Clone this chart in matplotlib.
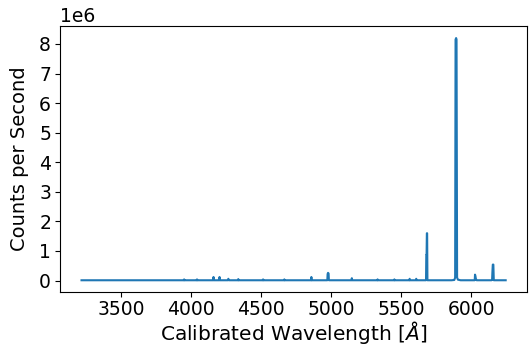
import numpy as np
import matplotlib
matplotlib.use('Agg')
import matplotlib.pyplot as plt
from matplotlib.ticker import MultipleLocator

# Spectrum (wavelength in Angstrom, counts per second).
wavelength = [3217, 3948, 3950, 3952, 4040, 4042, 4044,
              4157, 4160, 4163, 4200, 4203, 4206, 4262, 4266, 4270,
              4335, 4337, 4339, 4512, 4514, 4516, 4664, 4666, 4668,
              4857, 4859, 4861, 4973, 4975, 4978, 4982, 4984,
              5145, 5148, 5151, 5330, 5332, 5334, 5450, 5452, 5454,
              5559, 5561, 5563, 5605, 5608, 5611,
              5678, 5680, 5682, 5684, 5686, 5688,
              5860, 5880, 5886, 5889, 5893, 5896, 5900, 5906, 5925,
              6026, 6028, 6031, 6034, 6040,
              6145, 6150, 6152, 6155, 6159, 6162, 6200, 6247]
counts = [0.01e6, 0.01e6, 0.04e6, 0.01e6, 0.01e6, 0.04e6, 0.01e6,
          0.01e6, 0.12e6, 0.01e6, 0.01e6, 0.12e6, 0.01e6, 0.01e6, 0.06e6, 0.01e6,
          0.01e6, 0.05e6, 0.01e6, 0.01e6, 0.04e6, 0.01e6, 0.01e6, 0.04e6, 0.01e6,
          0.01e6, 0.12e6, 0.01e6, 0.01e6, 0.22e6, 0.26e6, 0.24e6, 0.01e6,
          0.01e6, 0.08e6, 0.01e6, 0.01e6, 0.04e6, 0.01e6, 0.01e6, 0.04e6, 0.01e6,
          0.01e6, 0.06e6, 0.01e6, 0.01e6, 0.06e6, 0.01e6,
          0.01e6, 0.87e6, 0.87e6, 1.6e6, 1.6e6, 0.01e6,
          0.01e6, 0.02e6, 0.1e6, 8.15e6, 8.2e6, 8.15e6, 0.1e6, 0.03e6, 0.01e6,
          0.01e6, 0.2e6, 0.15e6, 0.06e6, 0.01e6,
          0.01e6, 0.02e6, 0.26e6, 0.54e6, 0.54e6, 0.01e6, 0.01e6, 0.01e6]

fig = plt.figure(figsize=(5.29, 3.46), dpi=100)
ax = fig.add_axes([0.114, 0.155, 0.882, 0.77])

ax.plot(np.array(wavelength), np.array(counts), color='C0', linewidth=1.5)

ax.yaxis.set_major_locator(MultipleLocator(1e6))
ax.set_xlabel(r'Calibrated Wavelength [$\AA$]', fontsize=14.5)
ax.set_ylabel('Counts per Second', fontsize=14)
ax.xaxis.set_label_coords(0.5, -0.1)
ax.yaxis.set_label_coords(-0.068, 0.5)
ax.tick_params(labelsize=13.5)
ax.tick_params(axis='x', pad=2)
ax.tick_params(axis='y', pad=3.2)
ax.yaxis.get_offset_text().set_fontsize(13.5)

fig.savefig('out.png', dpi=100)
